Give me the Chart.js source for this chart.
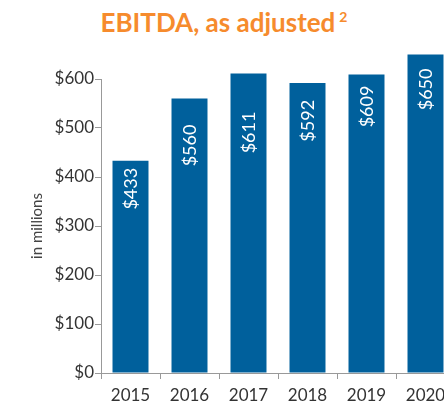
<!DOCTYPE html>
<html lang="en">
  <head>
    <meta charset="UTF-8" />
    <title>EBITDA, as adjusted</title>
    <style>
      body {
        margin: 0;
        width: 444px;
        height: 406px;
        overflow: hidden;
        background: #fff;
        font-family: Lato, "Open Sans", sans-serif;
      }
      .title {
        position: absolute;
        left: 0;
        top: 6px;
        width: 448px;
        text-align: center;
        color: #f68b2d;
        font-weight: bold;
        font-size: 26px;
      }
      .title sup {
        font-size: 14px;
        margin-left: 4px;
      }
      .chart-box {
        position: absolute;
        left: 0;
        top: 0;
        width: 455px;
        height: 406px;
      }
    </style>
  </head>
  <body>
    <div class="title">EBITDA, as adjusted<sup>2</sup></div>
    <div class="chart-box">
      <canvas id="myChart"></canvas>
    </div>

    <script src="https://cdn.jsdelivr.net/npm/chart.js"></script>

    <script>
      const years = ["2015", "2016", "2017", "2018", "2019", "2020"];
      const ebitda = [433, 560, 611, 592, 609, 650];
      const yTicks = [0, 100, 200, 300, 400, 500, 600];
      // gap between bar top and its label, px
      const labelGap = [7, 26, 38, 17, 11, 14];

      const barLabels = {
        id: "barLabels",
        afterDatasetsDraw(chart) {
          const ctx = chart.ctx;
          const bars = chart.getDatasetMeta(0).data;
          ctx.save();
          ctx.fillStyle = "#fff";
          ctx.font = "18px Lato";
          ctx.textAlign = "right";
          ctx.textBaseline = "middle";
          bars.forEach((bar, i) => {
            ctx.save();
            ctx.translate(bar.x + 1, bar.y + labelGap[i]);
            ctx.rotate(-Math.PI / 2);
            ctx.fillText("$" + ebitda[i], 0, 0);
            ctx.restore();
          });
          ctx.restore();
        },
      };

      const ctx1 = document.getElementById("myChart");

      const chart1 = new Chart(ctx1, {
        type: "bar",
        data: {
          labels: years,
          datasets: [
            {
              data: ebitda,
              backgroundColor: "#00609c",
              categoryPercentage: 1,
              barPercentage: 0.61,
              clip: false,
            },
          ],
        },
        options: {
          responsive: true,
          maintainAspectRatio: false,
          animation: false,
          layout: {
            padding: { top: 79, left: 0, right: 0, bottom: 0 },
          },
          plugins: {
            legend: { display: false },
            tooltip: { enabled: false },
          },
          scales: {
            x: {
              grid: {
                drawOnChartArea: false,
                tickLength: 6,
                color: "#999",
              },
              border: { color: "#999", width: 1 },
              ticks: {
                color: "#333",
                font: { family: "Lato", size: 17 },
                padding: 6,
              },
              afterFit(scale) {
                scale.height = 33;
              },
            },
            y: {
              min: 0,
              max: 600,
              afterBuildTicks(scale) {
                scale.ticks = yTicks.map((v) => ({ value: v }));
              },
              grid: {
                drawOnChartArea: false,
                tickLength: 6,
                color: "#999",
              },
              border: { color: "#999", width: 1 },
              ticks: {
                color: "#333",
                font: { family: "Lato", size: 17 },
                padding: 1,
                callback: (v) => "$" + v,
              },
              title: {
                display: true,
                text: "in millions",
                color: "#444",
                font: { family: "Lato", size: 15 },
                padding: { top: 28 },
              },
              afterFit(scale) {
                scale.width = 101;
              },
            },
          },
        },
        plugins: [barLabels],
      });
    </script>
  </body>
</html>
